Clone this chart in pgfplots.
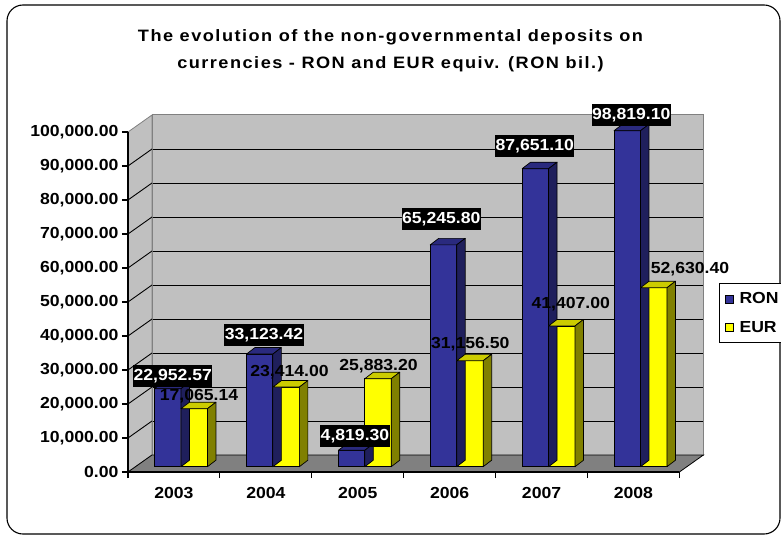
\documentclass[border=0pt]{standalone}
\usepackage{fontspec}
\setmainfont{Liberation Sans}[FakeStretch=1.1]
\newfontfamily\titlefont{Liberation Sans}[FakeStretch=1.1, LetterSpace=9]
\usepackage{pgfplots}
\pgfplotsset{compat=1.18}
\usepackage{pgfplotstable}

\definecolor{ronblue}{HTML}{333399}
\definecolor{rontop}{HTML}{2A2A7E}
\definecolor{ronside}{HTML}{1F1F5C}
\definecolor{euryellow}{HTML}{FFFF00}
\definecolor{eurtop}{HTML}{CCCC00}
\definecolor{eurside}{HTML}{808000}
\definecolor{wallgray}{HTML}{C0C0C0}
\definecolor{floorgray}{HTML}{808080}

% x: category index, val: value, dx/dy: label offset (pt) from bar top
\pgfplotstableread{
x val dx dy
0 22952.57 -8.75 12.7
1 33123.42 -9.35 18.6
2 4819.30 -10.25 14.8
3 65245.80 -15.85 26.0
4 87651.10 -14.35 22.9
5 98819.10 -9.65 15.4
}\ron
\pgfplotstableread{
x val dx dy
0 17065.14 17.55 13.0
1 23414.00 16.15 15.1
2 25883.20 13.25 12.2
3 31156.50 13.15 17.0
4 41407.00 21.75 22.1
5 52630.40 49.05 18.5
}\eur

\newcommand\chartfont{\bfseries\fontsize{16}{19}\selectfont}

\tikzset{
  ronlabel/.style={fill=black, text=white, font=\chartfont, inner xsep=0.5pt, inner ysep=4pt, text height=11.5pt, text depth=2.5pt},
  eurlabel/.style={fill=none, text=black, font=\chartfont, inner sep=0.5pt},
}

\pgfplotsset{
  /pgf/number format/assume math mode=true,
  frame3d/.style={width=551.4pt, height=340pt, scale only axis, anchor=south west,
    xmin=-0.5, xmax=5.5, ymin=0, ymax=100000, enlargelimits=false, clip=false,
    scaled y ticks=false, scaled x ticks=false},
  prism/.style n args={4}{%
    forget plot, only marks, mark=*, mark size=0pt, black, scatter,
    visualization depends on={\thisrow{val}/1000 \as \hk},
    scatter/@pre marker code/.code={%
      \pgfkeys{/pgf/fpu=false}%
      \pgfmathsetmacro\prismH{\hk*3.4}%
      \filldraw[fill=#3, draw=black, line width=0.7pt, line join=round]
        (#1pt,0pt) -- ++(8.5pt,6.5pt) -- (#2pt+8.5pt,6.5pt) -- (#2pt,0pt) -- cycle;
      \filldraw[fill=#4, draw=black, line width=0.7pt, line join=round]
        (#2pt,0pt) -- ++(8.5pt,6.5pt) -- ++(0pt,-\prismH pt) -- ++(-8.5pt,-6.5pt) -- cycle;
    },
    scatter/@post marker code/.code={},
  },
  vlabels/.style={%
    forget plot, only marks, mark=*, mark size=0pt, black, point meta=explicit,
    visualization depends on={\thisrow{dx} \as \ldx},
    visualization depends on={\thisrow{dy} \as \ldy},
    nodes near coords={\pgfmathprintnumber[fixed,fixed zerofill,precision=2,1000 sep={,}]{\pgfplotspointmeta}},
    every node near coord/.append style={#1, anchor=center, xshift=\ldx pt, yshift=\ldy pt},
  },
}

\begin{document}
\begin{tikzpicture}[x=1pt,y=1pt]
\useasboundingbox (-128pt,-64pt) rectangle (653pt,472pt);
\draw[line width=1.1pt, rounded corners=16pt] (-121pt,-62pt) rectangle (652pt,467pt);
\node[font=\titlefont\bfseries\fontsize{16.5}{27}\selectfont, align=center] at (262.5pt,421pt)
  {The evolution of the non-governmental deposits on\\currencies - RON and EUR equiv. (RON bil.)};

% back wall
\begin{axis}[frame3d, at={(24pt,17pt)},
  axis background/.style={fill=wallgray},
  axis line style={draw=floorgray, line width=1pt},
  xtick=\empty,
  ytick={10000,20000,30000,40000,50000,60000,70000,80000,90000},
  yticklabels={}, major tick length=0pt, ymajorgrids,
  grid style={black, line width=0.9pt}]
\addplot[draw=none, forget plot] coordinates {(0,0)};
\end{axis}

% front frame: side wall, floor, axes
\begin{axis}[frame3d, at={(0pt,0pt)}, axis on top,
  axis x line=bottom, axis y line=left, axis line style={-, line width=1.3pt},
  tick style={black, line width=1.1pt}, tick align=outside, major tick length=6pt,
  ytick={0,10000,20000,30000,40000,50000,60000,70000,80000,90000,100000},
  xtick={-0.5,0.5,1.5,2.5,3.5,4.5,5.5}, x tick label as interval,
  xticklabels={2003,2004,2005,2006,2007,2008},
  yticklabel={\pgfmathprintnumber[fixed,fixed zerofill,precision=2,1000 sep={,}]{\tick}},
  tick label style={font=\chartfont},
  xticklabel style={yshift=-6pt}]
\addplot[draw=none, forget plot] coordinates {(0,0)};
\fill[wallgray, draw=floorgray, line width=0.8pt] (axis cs:-0.5,0) -- (axis cs:-0.5,100000) -- ++(24pt,17pt) -- ([shift={(24pt,17pt)}]axis cs:-0.5,0) -- cycle;
\pgfplotsinvokeforeach{10000,20000,30000,40000,50000,60000,70000,80000,90000}{
  \draw[black, line width=0.9pt] (axis cs:-0.5,#1) -- ++(24pt,17pt);
}
\fill[floorgray, draw=black, line width=0.8pt] (axis cs:-0.5,0) -- (axis cs:5.5,0) -- ++(24pt,17pt) -- ([shift={(24pt,17pt)}]axis cs:-0.5,0) -- cycle;
\end{axis}

% bars
\begin{axis}[frame3d, at={(7.5pt,5.3pt)}, axis lines=none, xtick=\empty, ytick=\empty,
  legend style={at={(1.0588,0.5394)}, anchor=north west, draw=black, line width=0.8pt,
    fill=white, font=\chartfont, inner xsep=5pt, inner ysep=7pt, row sep=12pt,
    nodes={inner xsep=6pt}},
  legend cell align=left]
\addplot[ybar, bar width=0.288, bar shift=-0.149, fill=ronblue, draw=black, line width=0.8pt,
  legend image code/.code={\draw[fill=ronblue, draw=black, line width=0.8pt] (0pt,-4pt) rectangle (8pt,4pt);}]
  table[x=x,y=val]{\ron};
\addlegendentry{RON}
\addplot[prism={-26.93}{-0.46}{rontop}{ronside}] table[x=x,y=val]{\ron};
\addplot[ybar, bar width=0.288, bar shift=0.139, fill=euryellow, draw=black, line width=0.8pt,
  legend image code/.code={\draw[fill=euryellow, draw=black, line width=0.8pt] (0pt,-4pt) rectangle (8pt,4pt);}]
  table[x=x,y=val]{\eur};
\addlegendentry{EUR}
\addplot[prism={-0.46}{26.0}{eurtop}{eurside}] table[x=x,y=val]{\eur};
\addplot[vlabels=ronlabel] table[x=x,y=val,meta=val]{\ron};
\addplot[vlabels=eurlabel] table[x=x,y=val,meta=val]{\eur};
\end{axis}
\end{tikzpicture}
\end{document}
